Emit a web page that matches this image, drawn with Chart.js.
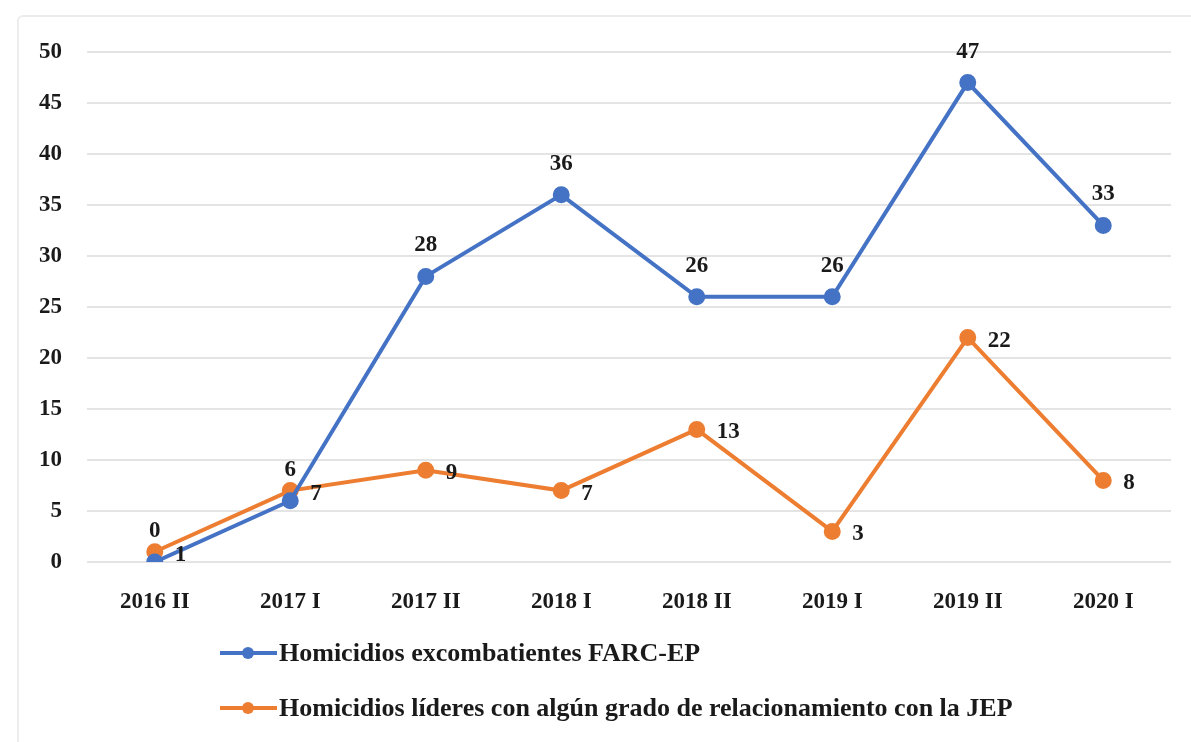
<!DOCTYPE html>
<html>
<head>
<meta charset="utf-8">
<script src="https://cdn.jsdelivr.net/npm/chart.js@4"></script>
<style>
  html, body { margin: 0; padding: 0; background: #fff; }
  #wrap { position: relative; width: 1191px; height: 742px; }
  #frame { position: absolute; left: 17px; top: 15px; width: 1180px; height: 740px;
           border: 2px solid #ececec; border-radius: 6px; box-sizing: border-box; }
  canvas { position: absolute; left: 0; top: 0; }
</style>
</head>
<body>
<div id="wrap">
  <div id="frame"></div>
  <canvas id="chart" width="1191" height="742"></canvas>
</div>
<script>
const periods = ['2016 II', '2017 I', '2017 II', '2018 I', '2018 II', '2019 I', '2019 II', '2020 I'];
const excombatientes = [0, 6, 28, 36, 26, 26, 47, 33];
const lideres = [1, 7, 9, 7, 13, 3, 22, 8];
const seriesNames = [
  'Homicidios excombatientes FARC-EP',
  'Homicidios líderes con algún grado de relacionamiento con la JEP'
];
const yTicks = [0, 5, 10, 15, 20, 25, 30, 35, 40, 45, 50];

const FONT = "'Liberation Serif', 'DejaVu Serif', serif";
const BLUE = '#4472C4';
const ORANGE = '#ED7D31';

// value labels: blue above the point, orange to the right
const valueLabels = {
  id: 'valueLabels',
  afterDatasetsDraw(chart) {
    const ctx = chart.ctx;
    ctx.save();
    ctx.font = 'bold 23px ' + FONT;
    ctx.fillStyle = '#1a1a1a';
    chart.data.datasets.forEach((ds, i) => {
      const meta = chart.getDatasetMeta(i);
      meta.data.forEach((pt, j) => {
        const txt = String(ds.data[j]);
        ctx.textBaseline = 'middle';
        if (i === 0) {
          ctx.textAlign = 'center';
          ctx.fillText(txt, pt.x, pt.y - 31);
        } else {
          ctx.textAlign = 'left';
          ctx.textBaseline = 'middle';
          ctx.fillText(txt, pt.x + 20, pt.y + 3);
        }
      });
    });
    ctx.restore();
  }
};

// legend stacked vertically under the plot
const stackedLegend = {
  id: 'stackedLegend',
  afterDraw(chart) {
    const ctx = chart.ctx;
    const x0 = 220, rows = [653, 708];
    ctx.save();
    chart.data.datasets.forEach((ds, i) => {
      const y = rows[i];
      ctx.strokeStyle = ds.borderColor;
      ctx.lineWidth = 4;
      ctx.beginPath();
      ctx.moveTo(x0, y);
      ctx.lineTo(x0 + 57, y);
      ctx.stroke();
      ctx.fillStyle = ds.borderColor;
      ctx.beginPath();
      ctx.arc(x0 + 28, y, 6, 0, Math.PI * 2);
      ctx.fill();
      ctx.fillStyle = '#1a1a1a';
      ctx.font = 'bold 26px ' + FONT;
      ctx.textAlign = 'left';
      ctx.textBaseline = 'middle';
      ctx.fillText(ds.label, x0 + 59, y + 1);
    });
    ctx.restore();
  }
};

new Chart(document.getElementById('chart'), {
  type: 'line',
  data: {
    labels: periods,
    datasets: [
      {
        label: seriesNames[0],
        data: excombatientes,
        borderColor: BLUE,
        backgroundColor: BLUE,
        borderWidth: 4,
        pointRadius: 6.5,
        pointHoverRadius: 6.5,
        tension: 0
      },
      {
        label: seriesNames[1],
        data: lideres,
        borderColor: ORANGE,
        backgroundColor: ORANGE,
        borderWidth: 4,
        pointRadius: 6.5,
        pointHoverRadius: 6.5,
        tension: 0
      }
    ]
  },
  options: {
    responsive: false,
    animation: false,
    layout: { padding: { left: 30, right: 20, top: 52, bottom: 120 } },
    plugins: {
      legend: { display: false },
      tooltip: { enabled: false }
    },
    scales: {
      x: {
        offset: true,
        grid: { display: false, drawTicks: false },
        border: { display: false },
        ticks: { color: '#1a1a1a', font: { family: FONT, size: 23, weight: 'bold' }, padding: 26 },
        afterFit(scale) { scale.height = 60; }
      },
      y: {
        min: 0,
        max: 50,
        afterBuildTicks(scale) { scale.ticks = yTicks.map(v => ({ value: v })); },
        grid: { color: '#e4e4e4', lineWidth: 2, drawTicks: false },
        border: { display: false },
        ticks: { color: '#1a1a1a', font: { family: FONT, size: 23, weight: 'bold' }, padding: 25 },
        afterFit(scale) { scale.width = 57; }
      }
    }
  },
  plugins: [valueLabels, stackedLegend]
});
</script>
</body>
</html>
